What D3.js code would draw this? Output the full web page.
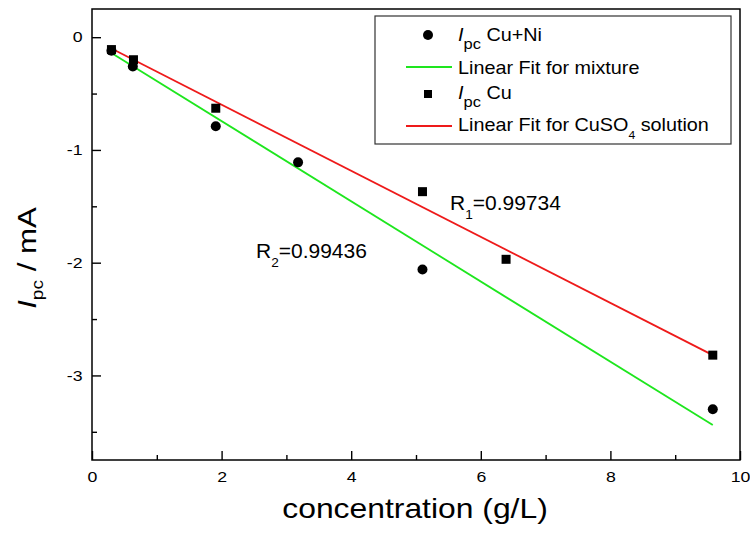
<!DOCTYPE html>
<html lang="en">
<head>
    <meta charset="UTF-8">
    <script type="text/javascript" src="https://cdn.jsdelivr.net/npm/d3@7/dist/d3.min.js"></script>
    <title>Ipc vs concentration</title>
    <style>
        body { margin: 0; background: #fff; }
        text { font-family: "Liberation Sans", Arial, sans-serif; fill: #000; }
    </style>
</head>
<body>

</body>
<script>

    // data
    let concCuNi = [0.3, 0.63, 1.91, 3.18, 5.1, 9.58],
        ipcCuNi = [-0.12, -0.26, -0.79, -1.11, -2.06, -3.30];

    let concCu = [0.3, 0.64, 1.91, 5.1, 6.39, 9.58],
        ipcCu = [-0.11, -0.20, -0.63, -1.37, -1.97, -2.82];

    // end points of the two fitted lines
    let fitMixX = [0.3, 9.58],
        fitMixY = [-0.14, -3.44];
    let fitCuX = [0.3, 9.58],
        fitCuY = [-0.10, -2.82];

    let xMajor = [0, 2, 4, 6, 8, 10],
        xMinor = [1, 3, 5, 7, 9],
        yMajor = [0, -1, -2, -3],
        yMinor = [-0.5, -1.5, -2.5, -3.5];

    let width = 750,
        height = 538,
        mLeft = 92, mRight = 740, mTop = 9, mBottom = 460,
        green = "#1ee61e",
        red = "#ee1a1a";

    let x = d3.scaleLinear()
            .domain([0, 10])
            .range([mLeft, mRight]),
        y = d3.scaleLinear()
            .domain([-3.75, 0.25])
            .range([mBottom, mTop]);

    let svg = d3.select("body")
        .append("svg")
        .attr("width", width)
        .attr("height", height);

    render();

    function render() {
        // axes, ticks point inward
        let xAxis = svg.append("g")
            .attr("transform", `translate(0,${mBottom})`)
            .call(d3.axisBottom(x).tickValues(xMajor).tickSize(-9).tickPadding(11).tickFormat(d => String(d)));
        svg.append("g")
            .attr("transform", `translate(0,${mBottom})`)
            .call(d3.axisBottom(x).tickValues(xMinor).tickSize(-5).tickFormat(""));
        let yAxis = svg.append("g")
            .attr("transform", `translate(${mLeft},0)`)
            .call(d3.axisLeft(y).tickValues(yMajor).tickSize(-9).tickPadding(9).tickFormat(d => String(d)));
        svg.append("g")
            .attr("transform", `translate(${mLeft},0)`)
            .call(d3.axisLeft(y).tickValues(yMinor).tickSize(-5).tickFormat(""));

        svg.selectAll(".domain").remove();
        svg.selectAll(".tick line").attr("stroke", "#000").attr("stroke-width", 1.4);

        xAxis.selectAll("text")
            .style("font-size", "15px")
            .attr("dy", "0.71em")
            .attr("transform", "scale(1.18,1)");
        yAxis.selectAll("text")
            .style("font-size", "15px")
            .attr("x", -8)
            .attr("transform", "scale(1.18,1)");

        // frame
        svg.append("rect")
            .attr("x", mLeft)
            .attr("y", mTop)
            .attr("width", mRight - mLeft)
            .attr("height", mBottom - mTop)
            .attr("fill", "none")
            .attr("stroke", "#000")
            .attr("stroke-width", 1.5);

        // fitted lines
        let line = d3.line()
            .x(d => x(d[0]))
            .y(d => y(d[1]));

        svg.append("path")
            .attr("d", line(d3.zip(fitMixX, fitMixY)))
            .attr("fill", "none")
            .attr("stroke", green)
            .attr("stroke-width", 1.8);

        svg.append("path")
            .attr("d", line(d3.zip(fitCuX, fitCuY)))
            .attr("fill", "none")
            .attr("stroke", red)
            .attr("stroke-width", 1.8);

        // points
        svg.selectAll("rect.cu")
            .data(d3.zip(concCu, ipcCu))
            .enter()
            .append("rect")
            .attr("class", "cu")
            .attr("x", d => x(d[0]) - 4.5)
            .attr("y", d => y(d[1]) - 4.5)
            .attr("width", 9)
            .attr("height", 9)
            .attr("fill", "#000");

        svg.selectAll("circle.cuni")
            .data(d3.zip(concCuNi, ipcCuNi))
            .enter()
            .append("circle")
            .attr("class", "cuni")
            .attr("cx", d => x(d[0]))
            .attr("cy", d => y(d[1]))
            .attr("r", 5)
            .attr("fill", "#000");

        // R annotations
        let r1 = svg.append("text")
            .attr("transform", "translate(450,210) scale(1.05,1)")
            .style("font-size", "20px");
        r1.append("tspan").text("R");
        r1.append("tspan").attr("dy", 9).style("font-size", "13px").text("1");
        r1.append("tspan").attr("dy", -9).text("=0.99734");

        let r2 = svg.append("text")
            .attr("transform", "translate(256,258) scale(1.05,1)")
            .style("font-size", "20px");
        r2.append("tspan").text("R");
        r2.append("tspan").attr("dy", 9).style("font-size", "13px").text("2");
        r2.append("tspan").attr("dy", -9).text("=0.99436");

        // axis titles
        svg.append("text")
            .attr("transform", "translate(415,518) scale(1.18,1)")
            .attr("text-anchor", "middle")
            .style("font-size", "27px")
            .text("concentration (g/L)");

        let yt = svg.append("text")
            .attr("transform", "translate(36,258) rotate(-90) scale(1.2,1)")
            .attr("text-anchor", "middle")
            .style("font-size", "26px");
        yt.append("tspan").style("font-style", "italic").text("I");
        yt.append("tspan").attr("dy", 7).style("font-size", "16px").text("pc");
        yt.append("tspan").attr("dy", -7).text(" / mA");

        legend();
    }

    function legend() {
        let g = svg.append("g");
        g.append("rect")
            .attr("x", 375)
            .attr("y", 16)
            .attr("width", 356)
            .attr("height", 128)
            .attr("fill", "#fff")
            .attr("stroke", "#333")
            .attr("stroke-width", 1.2);

        let sx = 428, tx = 458;

        g.append("circle").attr("cx", sx).attr("cy", 35).attr("r", 5).attr("fill", "#000");
        g.append("line").attr("x1", 406).attr("x2", 452).attr("y1", 67).attr("y2", 67)
            .attr("stroke", green).attr("stroke-width", 1.8);
        g.append("rect").attr("x", sx - 4).attr("y", 90).attr("width", 8).attr("height", 8).attr("fill", "#000");
        g.append("line").attr("x1", 406).attr("x2", 452).attr("y1", 126).attr("y2", 126)
            .attr("stroke", red).attr("stroke-width", 1.8);

        let t1 = g.append("text")
            .attr("transform", `translate(${tx},41) scale(1.1,1)`)
            .style("font-size", "18px");
        t1.append("tspan").style("font-style", "italic").text("I");
        t1.append("tspan").attr("dy", 8).style("font-size", "15px").text("pc");
        t1.append("tspan").attr("dy", -8).text(" Cu+Ni");

        g.append("text")
            .attr("transform", `translate(${tx},74) scale(1.1,1)`)
            .style("font-size", "18px")
            .text("Linear Fit for mixture");

        let t3 = g.append("text")
            .attr("transform", `translate(${tx},99) scale(1.1,1)`)
            .style("font-size", "18px");
        t3.append("tspan").style("font-style", "italic").text("I");
        t3.append("tspan").attr("dy", 8).style("font-size", "15px").text("pc");
        t3.append("tspan").attr("dy", -8).text(" Cu");

        let t4 = g.append("text")
            .attr("transform", `translate(${tx},131) scale(1.1,1)`)
            .style("font-size", "18px");
        t4.append("tspan").text("Linear Fit for CuSO");
        t4.append("tspan").attr("dy", 8).style("font-size", "11px").text("4");
        t4.append("tspan").attr("dy", -8).text(" solution");
    }

</script>
</html>
